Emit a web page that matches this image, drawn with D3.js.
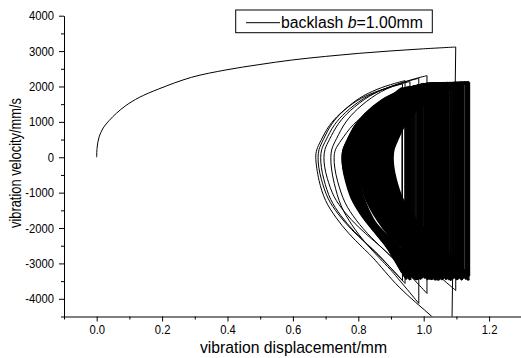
<!DOCTYPE html>
<html><head><meta charset="utf-8">
<script src="https://cdn.jsdelivr.net/npm/d3@7"></script>
<style>
body{margin:0;background:#fff}
svg{display:block}
text{font-family:"Liberation Sans",Arial,sans-serif;fill:#000}
</style>
</head><body>
<svg id="c" width="521" height="358"></svg>
<script>
// ---------- data ----------
const xTickValues = [0.0, 0.2, 0.4, 0.6, 0.8, 1.0, 1.2];
const xMinorTicks = [-0.1, 0.1, 0.3, 0.5, 0.7, 0.9, 1.1, 1.3];
const yTickValues = [-4000, -3000, -2000, -1000, 0, 1000, 2000, 3000, 4000];
const yMinorTicks = [-4500, -3500, -2500, -1500, -500, 500, 1500, 2500, 3500];

// initial run-up from rest (displacement mm, velocity mm/s)
const initX = [0, 0.001, 0.007, 0.02, 0.038, 0.06, 0.089, 0.13, 0.19, 0.29, 0.395, 0.496, 0.598, 0.7, 0.8, 0.9, 1.0, 1.098];
const initV = [0, 250, 565, 830, 1036, 1240, 1460, 1690, 1931, 2259, 2467, 2617, 2749, 2850, 2935, 3005, 3065, 3115];
// first impact and the first (outermost) return arc
const firstImpactX = [1.098, 1.086];
const firstImpactV = [3115, -5000];
const firstLowX = [1.086, 1.025, 0.925, 0.843, 0.812, 0.772, 0.731, 0.700, 0.680, 0.670];
const firstLowV = [-5000, -4500, -3670, -2823, -2540, -2163, -1694, -1222, -658, 0];

// shape of one loop (fractions of width / peak velocity)
const upDx = [0, 0.011, 0.059, 0.157, 0.278, 0.478, 0.678, 0.878, 1.0];
const upV  = [0, 0.10, 0.228, 0.432, 0.591, 0.772, 0.886, 0.963, 1.0];
const loDx = [0, 0.008, 0.039, 0.118, 0.239, 0.40, 0.557, 0.678, 1.0];
const loV  = [0, 0.08, 0.179, 0.333, 0.462, 0.589, 0.692, 0.769, 1.0];

// loops: turning points (v=0), impact positions, velocity before / after each impact
const vertexX = [0.670, 0.677, 0.685, 0.695, 0.716, 0.726,
  0.750, 0.842, 0.771, 0.866, 0.893, 0.905, 0.884, 0.858, 0.823, 0.763,
  0.851, 0.876, 0.897, 0.870, 0.754, 0.812, 0.836, 0.781, 0.861, 0.889,
  0.901, 0.845, 0.757, 0.833, 0.869, 0.848, 0.768, 0.820, 0.880, 0.894,
  0.877, 0.766, 0.853, 0.864, 0.779, 0.828, 0.872, 0.886, 0.839, 0.785,
  0.817, 0.760, 0.806, 0.859, 0.873, 0.773, 0.825, 0.856, 0.791, 0.843,
  0.862, 0.762, 0.802, 0.834, 0.867, 0.788, 0.814, 0.799, 0.850, 0.808,
  0.871, 0.899, 0.882, 0.772, 0.832, 0.789, 0.846, 0.868, 0.903, 0.887,
  0.855, 0.758, 0.819, 0.863, 0.776, 0.829, 0.794, 0.841, 0.878, 0.896,
  0.874, 0.765, 0.811, 0.857, 0.780, 0.838, 0.883, 0.892, 0.849, 0.770,
  0.815, 0.860, 0.890, 0.752, 0.804, 0.865, 0.796, 0.831, 0.874, 0.818,
  0.874, 0.889, 0.868, 0.892, 0.879, 0.895, 0.872, 0.886, 0.878, 0.898, 0.881];
const impactX = [0.935, 0.943, 0.958, 0.985, 1.010, 1.098,
  1.004, 0.957, 1.021, 1.112, 1.137, 1.140, 1.118, 1.093, 0.968, 1.012,
  1.080, 1.129, 1.134, 0.987, 0.998, 1.047, 0.945, 1.031, 1.098, 1.121,
  1.106, 0.976, 1.009, 1.061, 1.087, 0.952, 1.026, 1.064, 1.102, 1.117,
  0.992, 1.017, 1.074, 0.962, 1.038, 1.056, 1.109, 1.091, 0.934, 1.023,
  0.981, 1.002, 1.049, 1.084, 0.971, 1.029, 1.068, 0.948, 1.034, 1.058,
  0.985, 1.013, 1.044, 1.071, 0.958, 1.052, 0.996, 1.041, 1.077,
  1.036, 1.113, 1.131, 0.990, 1.019, 0.954, 1.043, 1.066, 1.095, 1.127,
  1.104, 0.966, 1.006, 1.054, 0.979, 1.027, 0.943, 1.039, 1.073, 1.115,
  1.138, 0.994, 1.015, 1.059, 0.973, 1.032, 1.082, 1.123, 1.089, 0.960,
  1.024, 1.046, 1.100, 0.983, 1.001, 1.062, 0.950, 1.035, 1.070, 1.107,
  1.040, 1.052, 1.075, 1.041, 1.066, 1.058, 1.083, 1.047, 1.070, 1.063, 1.090];
const impactTop = [2072, 2165, 2140, 2230, 2306, 2120,
  2070, 1990, 2090, 2110, 2118, 2115, 2112, 2105, 2000, 2080,
  2100, 2120, 2119, 2030, 2060, 2098, 1960, 2092, 2107, 2116,
  2113, 2010, 2075, 2102, 2103, 1975, 2086, 2094, 2109, 2114,
  2040, 2083, 2097, 1985, 2091, 2089, 2111, 2106, 1955, 2088,
  2020, 2072, 2095, 2104, 2015, 2087, 2096, 1970, 2090, 2093,
  2035, 2078, 2094, 2099, 1980, 2092, 2050, 2093, 2101,
  2093, 2112, 2118, 2040, 2085, 1980, 2093, 2098, 2106, 2117,
  2110, 1995, 2074, 2095, 2025, 2089, 1965, 2091, 2100, 2113,
  2120, 2045, 2081, 2096, 2012, 2090, 2103, 2115, 2105, 1990,
  2086, 2094, 2108, 2030, 2068, 2097, 1972, 2091, 2099, 2110,
  2092, 2095, 2100, 2090, 2098, 2096, 2102, 2093, 2099, 2097, 2104];
const impactBot = [-3480, -3566, -3340, -4131, -3848, -3764,
  -3420, -3310, -3455, -3280, -3390, -3350, -3470, -3240, -3410, -3330,
  -3460, -3295, -3380, -3440, -3365, -3475, -3260, -3400, -3345, -3430,
  -3305, -3465, -3375, -3250, -3415, -3335, -3450, -3290, -3395, -3360,
  -3445, -3270, -3425, -3385, -3470, -3320, -3405, -3440, -3255, -3390,
  -3460, -3300, -3435, -3480, -3340, -3410, -3285, -3450, -3370, -3425,
  -3310, -3465, -3395, -3350, -3455, -3275, -3420, -3380, -3440,
  -3400, -3330, -3445, -3285, -3430, -3360, -3470, -3300, -3415, -3350,
  -3460, -3265, -3405, -3440, -3320, -3455, -3380, -3290, -3425, -3395,
  -3475, -3345, -3420, -3260, -3435, -3370, -3450, -3305, -3410, -3465,
  -3335, -3400, -3280, -3445, -3360, -3425, -3310, -3460, -3390, -3430,
  -3400, -3420, -3380, -3440, -3350, -3465, -3400, -3330, -3455, -3390, -3425];

const legendParts = ["backlash ", "b", "=1.00mm"];
const xTitle = "vibration displacement/mm";
const yTitle = "vibration velocity/mm/s";

// ---------- drawing ----------
const svg = d3.select("#c");
const x = d3.scaleLinear().domain([-0.1, 1.3]).range([64, 521.8]);
const y = d3.scaleLinear().domain([-4500, 4000]).range([316.5, 15.7]);

function squeeze(sel, k) {
  sel.each(function () {
    const L = this.getComputedTextLength();
    this.setAttribute("textLength", L * k);
    this.setAttribute("lengthAdjust", "spacingAndGlyphs");
  });
}

svg.append("clipPath").attr("id", "plot").append("rect")
  .attr("x", 64).attr("y", 0).attr("width", 460).attr("height", 316.5);

const g = svg.append("g").attr("clip-path", "url(#plot)")
  .attr("fill", "none").attr("stroke", "#000").attr("stroke-width", 1);

const curve = d3.line().x(d => x(d[0])).y(d => y(d[1])).curve(d3.curveCatmullRom.alpha(0.5));
const straight = d3.line().x(d => x(d[0])).y(d => y(d[1]));

// initial run
g.append("path").attr("d", curve(initX.map((d, i) => [d, initV[i]])));
g.append("path").attr("d", straight(firstImpactX.map((d, i) => [d, firstImpactV[i]])));

// loops (transient loops thin, settled loops heavier so the attractor reads solid)
const nTransient = 6;
for (let i = 0; i <= impactX.length; i++) {
  const pts = [];
  const xl = vertexX[i];
  if (i === 0) {
    firstLowX.forEach((d, k) => pts.push([d, firstLowV[k]]));
  } else {
    const xr = impactX[i - 1], b = impactBot[i - 1];
    for (let k = loDx.length - 1; k >= 0; k--) pts.push([xl + loDx[k] * (xr - xl), loV[k] * b]);
  }
  if (i < impactX.length) {
    const xr = impactX[i], t = impactTop[i];
    for (let k = 1; k < upDx.length; k++) pts.push([xl + upDx[k] * (xr - xl), upV[k] * t]);
  }
  g.append("path").attr("d", curve(pts)).attr("stroke-width", i > nTransient ? 2.3 : 1);
}
impactX.forEach((d, i) => {
  g.append("path").attr("d", straight([[d, impactTop[i]], [d, impactBot[i]]]))
    .attr("stroke-width", i >= nTransient ? 1.4 : 1);
});

// axes
svg.append("g").attr("transform", "translate(64,0)")
  .call(d3.axisLeft(y).tickValues(yTickValues).tickSize(5).tickSizeOuter(0).tickPadding(5).tickFormat(d => String(d)));
svg.append("g").attr("transform", "translate(64,0)")
  .call(d3.axisLeft(y).tickValues(yMinorTicks).tickSize(3).tickFormat(""))
  .call(s => s.select(".domain").remove());
svg.append("g").attr("transform", "translate(0,316.5)")
  .call(d3.axisBottom(x).tickValues(xTickValues).tickSize(5).tickSizeOuter(0).tickPadding(4).tickFormat(d3.format(".1f")));
svg.append("g").attr("transform", "translate(0,316.5)")
  .call(d3.axisBottom(x).tickValues(xMinorTicks).tickSize(3).tickFormat(""))
  .call(s => s.select(".domain").remove());

svg.selectAll(".tick line, .domain").attr("stroke", "#000").attr("stroke-width", 1);
svg.selectAll(".tick text").attr("font-family", null).style("font-size", "12.5px").attr("fill", "#000");
squeeze(svg.selectAll(".tick text"), 0.9);

// titles
svg.append("text").attr("x", 293.5).attr("y", 352.5).attr("text-anchor", "middle")
  .style("font-size", "17px").attr("textLength", 187).attr("lengthAdjust", "spacingAndGlyphs").text(xTitle);
svg.append("text").attr("transform", "translate(21,163) rotate(-90)").attr("text-anchor", "middle")
  .style("font-size", "16px").attr("textLength", 130).attr("lengthAdjust", "spacingAndGlyphs").text(yTitle);

// legend
svg.append("rect").attr("x", 235.7).attr("y", 10).attr("width", 196.6).attr("height", 22.7)
  .attr("fill", "#fff").attr("stroke", "#000").attr("stroke-width", 1);
svg.append("line").attr("x1", 246).attr("x2", 280).attr("y1", 22.7).attr("y2", 22.7)
  .attr("stroke", "#000").attr("stroke-width", 1);
const lt = svg.append("text").attr("x", 281).attr("y", 27.5).style("font-size", "15.8px");
legendParts.forEach((s, i) => {
  lt.append("tspan").style("font-style", i === 1 ? "italic" : "normal").text(s);
});
</script>
</body></html>
